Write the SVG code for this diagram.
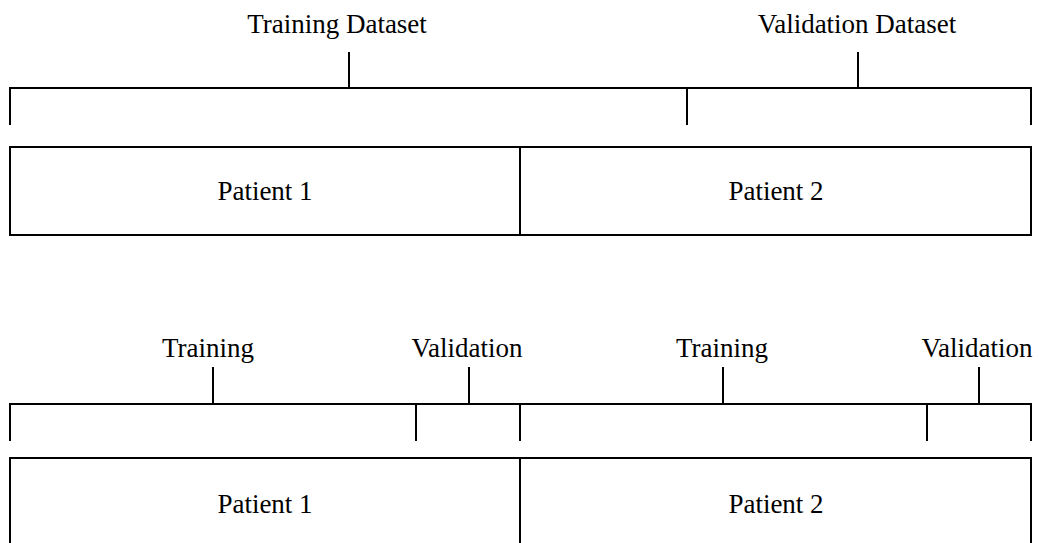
<svg xmlns="http://www.w3.org/2000/svg" width="1040" height="543" viewBox="0 0 1040 543">
<style>
text{font-family:"Liberation Serif","Times New Roman",serif;font-size:27px;fill:#000;text-anchor:middle}
.ln{stroke:#000;stroke-width:2;fill:none}
.box{stroke:#000;stroke-width:2;fill:#fff}
</style>
<rect width="1040" height="543" fill="#fff"/>
<g id="connectors">
<path class="ln" d="M10,125 V88 H1031 V125 M349,52 V88 M858,52 V88 M687,88 V125"/>
<path class="ln" d="M10,441 V404 H1031 V441 M213,367 V404 M469,367 V404 M416,404 V441 M520,404 V441 M723,367 V404 M979,367 V404 M927,404 V441"/>
</g>
<g id="label-training-dataset"><text x="337" y="33">Training Dataset</text></g>
<g id="label-validation-dataset"><text x="857" y="33">Validation Dataset</text></g>
<g id="top-patient1"><rect class="box" x="10" y="147" width="510" height="88"/><text x="265" y="200">Patient 1</text></g>
<g id="top-patient2"><rect class="box" x="520" y="147" width="511" height="88"/><text x="776" y="200">Patient 2</text></g>
<g id="label-training1"><text x="208" y="357">Training</text></g>
<g id="label-validation1"><text x="467" y="357">Validation</text></g>
<g id="label-training2"><text x="722" y="357">Training</text></g>
<g id="label-validation2"><text x="977" y="357">Validation</text></g>
<g id="bottom-patient1"><rect class="box" x="10" y="458" width="510" height="90"/><text x="265" y="513">Patient 1</text></g>
<g id="bottom-patient2"><rect class="box" x="520" y="458" width="511" height="90"/><text x="776" y="513">Patient 2</text></g>
</svg>
